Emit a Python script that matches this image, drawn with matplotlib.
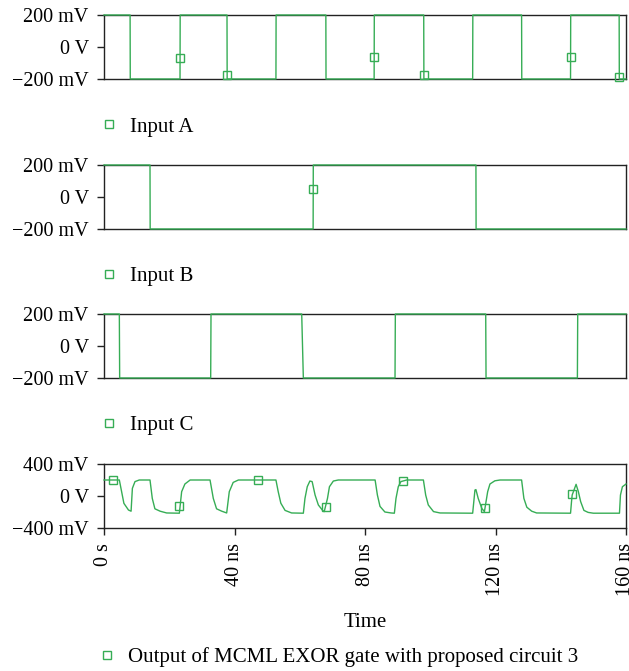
import matplotlib
matplotlib.use("Agg")
import matplotlib.pyplot as plt
from matplotlib.lines import Line2D

plt.rcParams['font.family'] = ['Liberation Serif', 'DejaVu Serif']
plt.rcParams['axes.unicode_minus'] = True

GREEN = '#36ad55'

# input edge times (ns), every input starts high
a_edges = [8.0, 23.3, 37.7, 52.7, 68.0, 82.8, 98.0, 113.0, 128.0, 143.0, 157.9]
b_edges = [14.1, 64.1, 114.0]
c_edges = [4.7, 32.7, 60.6, 89.2, 117.0, 145.1]
c_fall = [0.1, 0.1, 0.5, 0.1, 0.1, 0.1]   # edge duration, the 61 ns edge is slanted
levels = [200, -200]                       # mV high / low

# probe markers on the traces (ns, mV)
a_mark_t = [23.3, 37.7, 82.9, 98.0, 143.0, 157.9]
a_mark_v = [-70, -175, -60, -175, -60, -185]
b_mark_t = [64.1]
b_mark_v = [50]

# output of the EXOR gate (ns, mV)
out_t = [0, 4.7, 5.4, 6.1, 7.5, 8.3, 8.7, 9.5, 10.8, 14.1, 14.8, 15.6, 17.2, 19.2,
         23.1, 23.8, 24.8, 26.4, 32.5, 33.5, 34.5, 36.1, 37.6, 38.4, 39.6, 41.2,
         52.7, 53.4, 54.2, 55.5, 57.5, 61.1, 61.6, 62.3, 63.1, 63.8, 64.7, 65.7,
         67.2, 67.5, 68.5, 69.1, 70.3, 71.8, 83.1, 83.8, 84.6, 86.1, 88.0, 89.0,
         89.5, 90.2, 91.0, 92.8, 97.9, 98.6, 99.4, 101.0, 103.0, 113.0, 113.7,
         114.0, 114.7, 115.8, 116.6, 117.6, 118.3, 119.8, 121.4, 128.0, 128.7,
         129.6, 131.1, 132.6, 143.0, 143.3, 143.5, 144.7, 145.4, 146.1, 147.1,
         148.4, 150.0, 158.0, 158.3, 158.9, 159.7, 160.0]
out_v = [200, 200, 54, -92, -175, -190, 96, 180, 200, 200, -30, -160, -190, -212,
         -215, 54, 150, 200, 200, -30, -160, -190, -212, 54, 170, 200,
         200, 54, -90, -180, -212, -215, -30, 116, 187, 180, 12, -112,
         -190, -195, -30, 116, 187, 200, 200, 12, -130, -200, -212, -215,
         -30, 116, 180, 200, 200, 12, -112, -195, -212, -215, 75,
         80, -30, -155, -195, 54, 150, 190, 200, 200, -30,
         -140, -190, -212, -215, -70, 12, 146, 54, -70, -180,
         -205, -215, -215, 12, 116, 140, 150]
out_mark_t = [2.9, 23.1, 47.3, 67.9, 91.5, 116.9, 143.5]
out_mark_v = [200, -125, 200, -140, 190, -146, 20]

labels = ['Input A', 'Input B', 'Input C',
          'Output of MCML EXOR gate with proposed circuit 3']


def square_wave(edges, durations=None, t_end=160.0):
    # build a step trace from the edge times
    if durations is None:
        durations = [0.05] * len(edges)
    t = [0.0]
    v = [levels[0]]
    state = 0
    for e, d in zip(edges, durations):
        t += [e, e + d]
        v += [levels[state], levels[1 - state]]
        state = 1 - state
    t.append(t_end)
    v.append(levels[state])
    return t, v


fig = plt.figure(figsize=(6.29, 6.71), dpi=100)
W, H = 629.0, 671.0
left = 104 / W
width = (626 - 104) / W
tops = [15, 165, 314, 464]      # top pixel of each panel
legend_y = [127, 276, 425, 657]  # legend row pixel
ph = 64

traces = [square_wave(a_edges), square_wave(b_edges), square_wave(c_edges, c_fall),
          (out_t, out_v)]
marks = [(a_mark_t, a_mark_v), (b_mark_t, b_mark_v), ([], []), (out_mark_t, out_mark_v)]

for i in range(4):
    ax = fig.add_axes([left, 1 - (tops[i] + ph) / H, width, ph / H])
    t, v = traces[i]
    ax.plot(t, v, color=GREEN, lw=1.0, zorder=3, clip_on=False)
    mt, mv = marks[i]
    if len(mt):
        ax.plot(mt, mv, ls='none', marker='s', ms=5.5, mfc='none', mec=GREEN,
                mew=1.0, zorder=4, clip_on=False)
    ax.set_xlim(0, 160)
    if i < 3:
        ax.set_ylim(-200, 200)
        ax.set_yticks([-200, 0, 200])
        ax.set_yticklabels(['\u2212200 mV', '0 V', '200 mV'])
        ax.set_xticks([])
    else:
        ax.set_ylim(-400, 400)
        ax.set_yticks([-400, 0, 400])
        ax.set_yticklabels(['\u2212400 mV', '0 V', '400 mV'])
        ax.set_xticks([0, 40, 80, 120, 160])
        ax.set_xticklabels(['0 s', '40 ns', '80 ns', '120 ns', '160 ns'], rotation=90)
        ax.set_xlabel('Time', fontsize=15, labelpad=12)
    ax.tick_params(axis='both', direction='out', length=5, width=1.0,
                   labelsize=14.5, color='#222222', pad=6)
    for s in ax.spines.values():
        s.set_linewidth(1.0)
        s.set_color('#222222')

    # legend row under each panel: marker symbol + trace name
    handle = Line2D([], [], ls='none', marker='s', ms=6, mfc='none', mec=GREEN, mew=1.0)
    x0 = 101 if i < 3 else 99
    ax.legend([handle], [labels[i]], loc='center left',
              bbox_to_anchor=(x0 / W, 1 - legend_y[i] / H),
              bbox_transform=fig.transFigure, frameon=False, fontsize=15,
              handlelength=0.8, handletextpad=0.6, borderpad=0, borderaxespad=0)

fig.savefig('out.png', dpi=100)
